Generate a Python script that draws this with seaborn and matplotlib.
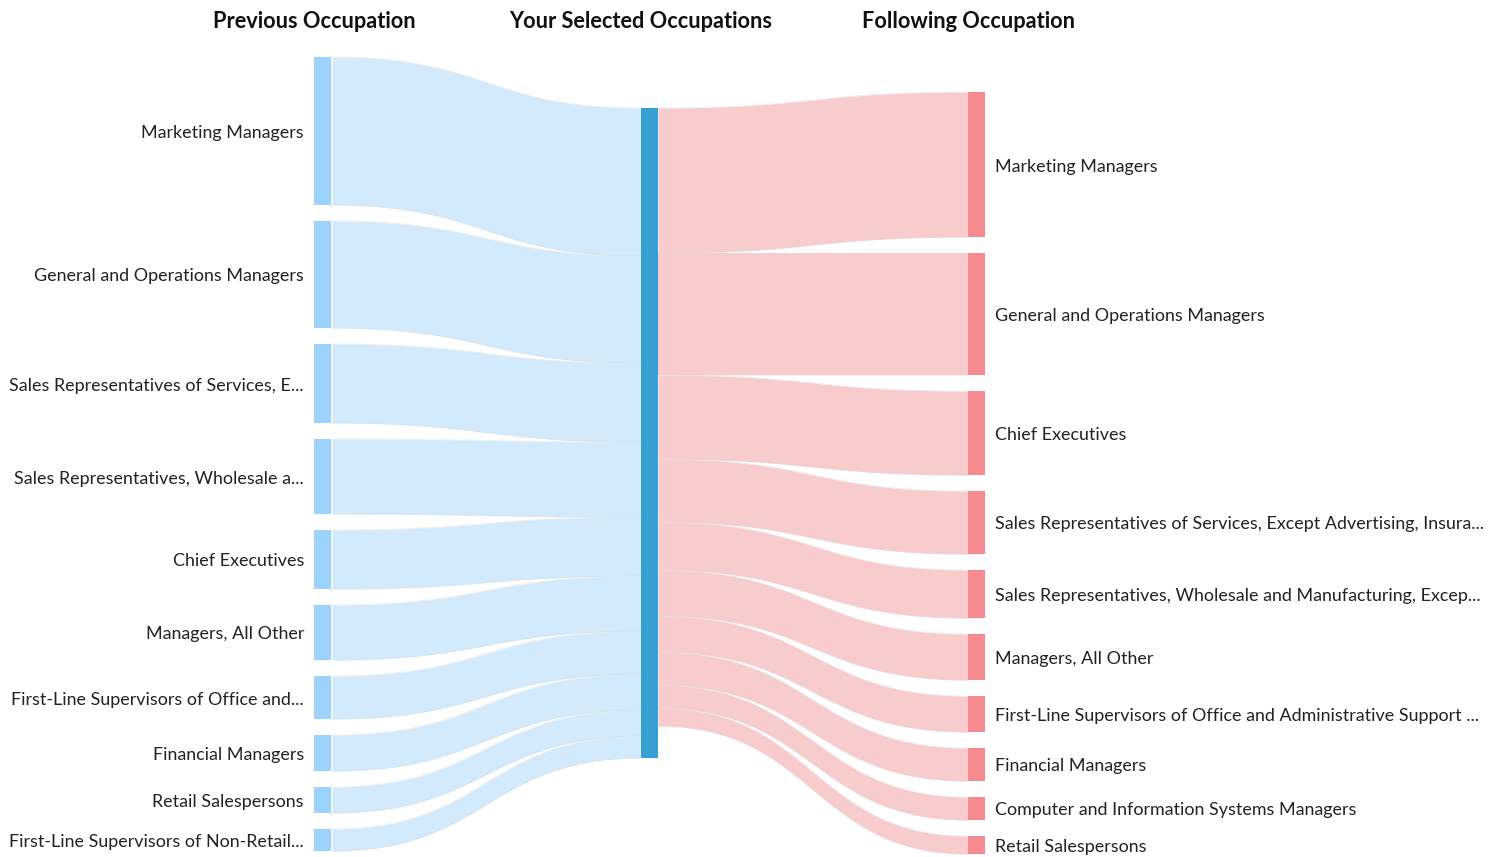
import numpy as np
import matplotlib
matplotlib.use("Agg")
import matplotlib.pyplot as plt
import seaborn as sns

# ---------------- data ----------------
headers = ["Previous Occupation", "Your Selected Occupations", "Following Occupation"]

prev_labels = [
    "Marketing Managers",
    "General and Operations Managers",
    "Sales Representatives of Services, E...",
    "Sales Representatives, Wholesale a...",
    "Chief Executives",
    "Managers, All Other",
    "First-Line Supervisors of Office and...",
    "Financial Managers",
    "Retail Salespersons",
    "First-Line Supervisors of Non-Retail...",
]
prev_values = [148, 107, 79, 75, 59, 55, 43, 36, 26, 22]

next_labels = [
    "Marketing Managers",
    "General and Operations Managers",
    "Chief Executives",
    "Sales Representatives of Services, Except Advertising, Insura...",
    "Sales Representatives, Wholesale and Manufacturing, Excep...",
    "Managers, All Other",
    "First-Line Supervisors of Office and Administrative Support ...",
    "Financial Managers",
    "Computer and Information Systems Managers",
    "Retail Salespersons",
]
next_values = [145, 122, 84, 63, 48, 46, 36, 33, 23, 18]

# ---------------- style ----------------
sns.set_theme(style="white")
plt.rcParams["font.family"] = ["Lato", "DejaVu Sans"]

W, H = 1503, 857
fig = plt.figure(figsize=(W / 100, H / 100), dpi=100)
ax = fig.add_axes([0, 0, 1, 1])
ax.set_xlim(0, W)
ax.set_ylim(H, 0)
ax.axis("off")

C_LNODE = "#9dd3fb"
C_LLINK = "#d2eafb"
C_CNODE = "#389fd3"
C_RLINK = "#f8cccd"
C_RNODE = "#f78a8f"
EDGE = "#dddddd"

NODE_W = 17
X_L, X_C, X_R = 314, 641, 968
TOP_L, TOP_C, TOP_R = 57, 108, 92
GAP = 16
scale = 1.0


def stack(values, top):
    ys = []
    y = top
    for v in values:
        h = v * scale
        ys.append((y, y + h))
        y += h + GAP
    return ys


left_nodes = stack(prev_values, TOP_L)
right_nodes = stack(next_values, TOP_R)
center_h = max(sum(prev_values), sum(next_values)) * scale


def link(x0, y0a, y0b, x1, y1a, y1b, color):
    t = np.linspace(0, 1, 200)
    xm = (x0 + x1) / 2
    bx = (1 - t) ** 3 * x0 + 3 * (1 - t) ** 2 * t * xm + 3 * (1 - t) * t ** 2 * xm + t ** 3 * x1
    s = 3 * t ** 2 - 2 * t ** 3
    ytop = y0a + (y1a - y0a) * s
    ybot = y0b + (y1b - y0b) * s
    ax.fill_between(bx, ytop, ybot, color=color, lw=0, zorder=1)
    ax.plot(bx, ytop, color=EDGE, lw=0.6, alpha=0.5, zorder=1.5)
    ax.plot(bx, ybot, color=EDGE, lw=0.6, alpha=0.5, zorder=1.5)


# left links
yc = TOP_C
for (a, b) in left_nodes:
    h = b - a
    link(X_L + NODE_W + 1, a, b, X_C, yc, yc + h, C_LLINK)
    yc += h

# right links
yc = TOP_C
for (a, b) in right_nodes:
    h = b - a
    link(X_C + NODE_W, yc, yc + h, X_R, a, b, C_RLINK)
    yc += h

FS = 12.9
# nodes
for (a, b), lab in zip(left_nodes, prev_labels):
    ax.add_patch(plt.Rectangle((X_L, a), NODE_W, b - a, color=C_LNODE, lw=0, zorder=3))
    ax.text(X_L - 10, (a + b) / 2 + 2, lab, ha="right", va="center", fontsize=FS, color="#222222")

ax.add_patch(plt.Rectangle((X_C, TOP_C), NODE_W, center_h, color=C_CNODE, lw=0, zorder=3))

for (a, b), lab in zip(right_nodes, next_labels):
    ax.add_patch(plt.Rectangle((X_R, a), NODE_W, b - a, color=C_RNODE, lw=0, zorder=3))
    ax.text(X_R + NODE_W + 10, (a + b) / 2 + 2, lab, ha="left", va="center", fontsize=FS, color="#222222")

for x, t in zip([X_L, X_C, X_R], headers):
    ax.text(x, 21, t, ha="center", va="center", fontsize=15.7, fontweight="bold", color="#111111")

fig.savefig("out.png", dpi=100, facecolor="white")
